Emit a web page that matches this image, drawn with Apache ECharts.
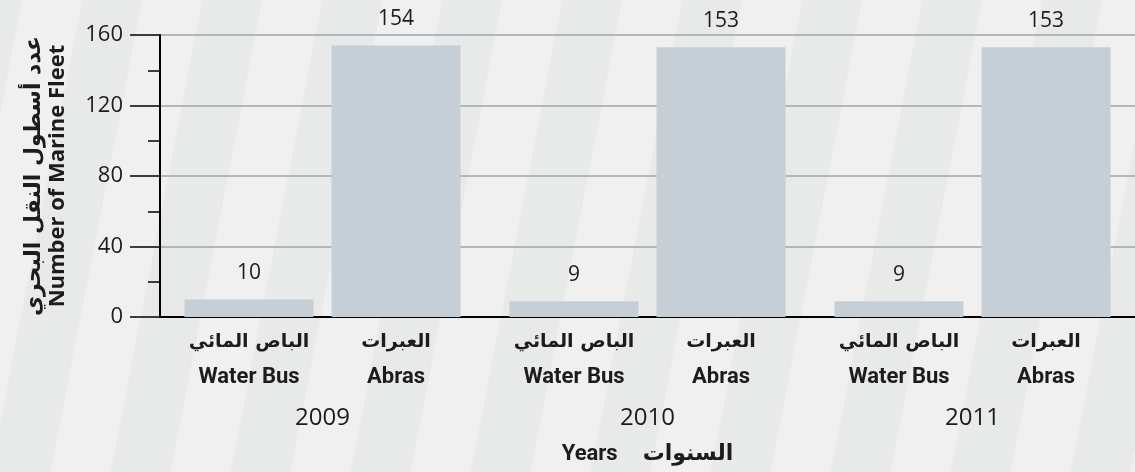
<!DOCTYPE html>
<html><head><meta charset="utf-8">
<script src="https://cdn.jsdelivr.net/npm/echarts@6/dist/echarts.min.js"></script>
<style>
html,body{margin:0;padding:0;width:1135px;height:472px;overflow:hidden;}
#c{width:1135px;height:472px;
background: repeating-linear-gradient(101deg, #e8e9e9 0px, #e8e9e9 21.9px, #f0f0f0 21.9px, #f0f0f0 80.8px, #e8e9e9 80.8px, #e8e9e9 117.8px);}
</style></head><body><div id="c"></div>
<script>
// ---- data ----
const years = ['2009', '2010', '2011'];
const seriesEn = ['Water Bus', 'Abras'];
const seriesAr = ['الباص المائي', 'العبرات'];
const waterBus = [10, 9, 9];
const abras = [154, 153, 153];
const yMin = 0, yMax = 160, yStep = 40;
const yNameAr = 'عدد أسطول النقل البحري';
const yNameEn = 'Number of Marine Fleet';
const xNameEn = 'Years';
const xNameAr = 'السنوات';

const chart = echarts.init(document.getElementById('c'), null, {renderer: 'canvas'});
const txt = '#1c1c1c';
const numFont = '"Open Sans", sans-serif';
const boldFont = 'Roboto, "DejaVu Sans", sans-serif';
const arFont = '"DejaVu Sans", sans-serif';
const barColor = '#c6ced6';

const valueLabel = {
  show: true, position: 'top', distance: 16,
  fontFamily: numFont, fontSize: 21, color: txt
};

chart.setOption({
  backgroundColor: 'transparent',
  animation: false,
  grid: {left: 160, top: 35, width: 989, height: 282, containLabel: false},
  xAxis: {
    type: 'category', data: years,
    axisLine: {show: true, lineStyle: {color: '#000', width: 2}},
    axisTick: {show: false},
    axisLabel: {
      margin: 8, interval: 0,
      formatter: function (v) {
        return '{ar|' + seriesAr[0] + '}{ar|' + seriesAr[1] + '}\n{en|' + seriesEn[0] + '}{en|' + seriesEn[1] + '}\n{yr|' + v + '}';
      },
      rich: {
        ar: {width: 147, align: 'center', fontSize: 19, fontWeight: 'bold', fontFamily: arFont, color: txt, lineHeight: 35},
        en: {width: 147, align: 'center', fontSize: 22, fontWeight: 'bold', fontFamily: boldFont, color: txt, lineHeight: 35},
        yr: {align: 'center', fontSize: 24, fontFamily: numFont, color: txt, lineHeight: 47}
      }
    },
    name: '{en|' + xNameEn + '}{ar|' + xNameAr + '}',
    nameLocation: 'middle', nameGap: 126,
    nameTextStyle: {
      rich: {
        en: {fontSize: 22, fontWeight: 'bold', fontFamily: boldFont, color: txt, padding: [0, 25, 0, 0]},
        ar: {fontSize: 22, fontWeight: 'bold', fontFamily: arFont, color: txt}
      }
    }
  },
  yAxis: {
    type: 'value', min: yMin, max: yMax, interval: yStep,
    axisLine: {show: true, lineStyle: {color: '#000', width: 2}},
    axisTick: {show: true, length: 30, lineStyle: {color: '#000', width: 1.5}},
    minorTick: {show: true, splitNumber: 2, length: 12, lineStyle: {color: '#000', width: 1.5}},
    splitLine: {show: true, lineStyle: {color: '#9ea5ac', width: 1.5}},
    axisLabel: {margin: 37, fontSize: 22, fontFamily: numFont, color: txt},
    name: '{ar|' + yNameAr + '}\n{en|' + yNameEn + '}',
    nameLocation: 'middle', nameRotate: 90, nameGap: 90,
    nameTextStyle: {
      rich: {
        ar: {fontSize: 22, fontWeight: 'bold', fontFamily: arFont, color: txt, lineHeight: 24},
        en: {fontSize: 22, fontWeight: 'bold', fontFamily: '"Open Sans", sans-serif', color: txt, lineHeight: 24}
      }
    }
  },
  series: [
    {name: seriesEn[0], type: 'bar', data: waterBus, barWidth: 129, barGap: '14%',
      itemStyle: {color: barColor}, label: valueLabel},
    {name: seriesEn[1], type: 'bar', data: abras, barWidth: 129, barGap: '14%',
      itemStyle: {color: barColor}, label: valueLabel}
  ]
});
</script></body></html>
